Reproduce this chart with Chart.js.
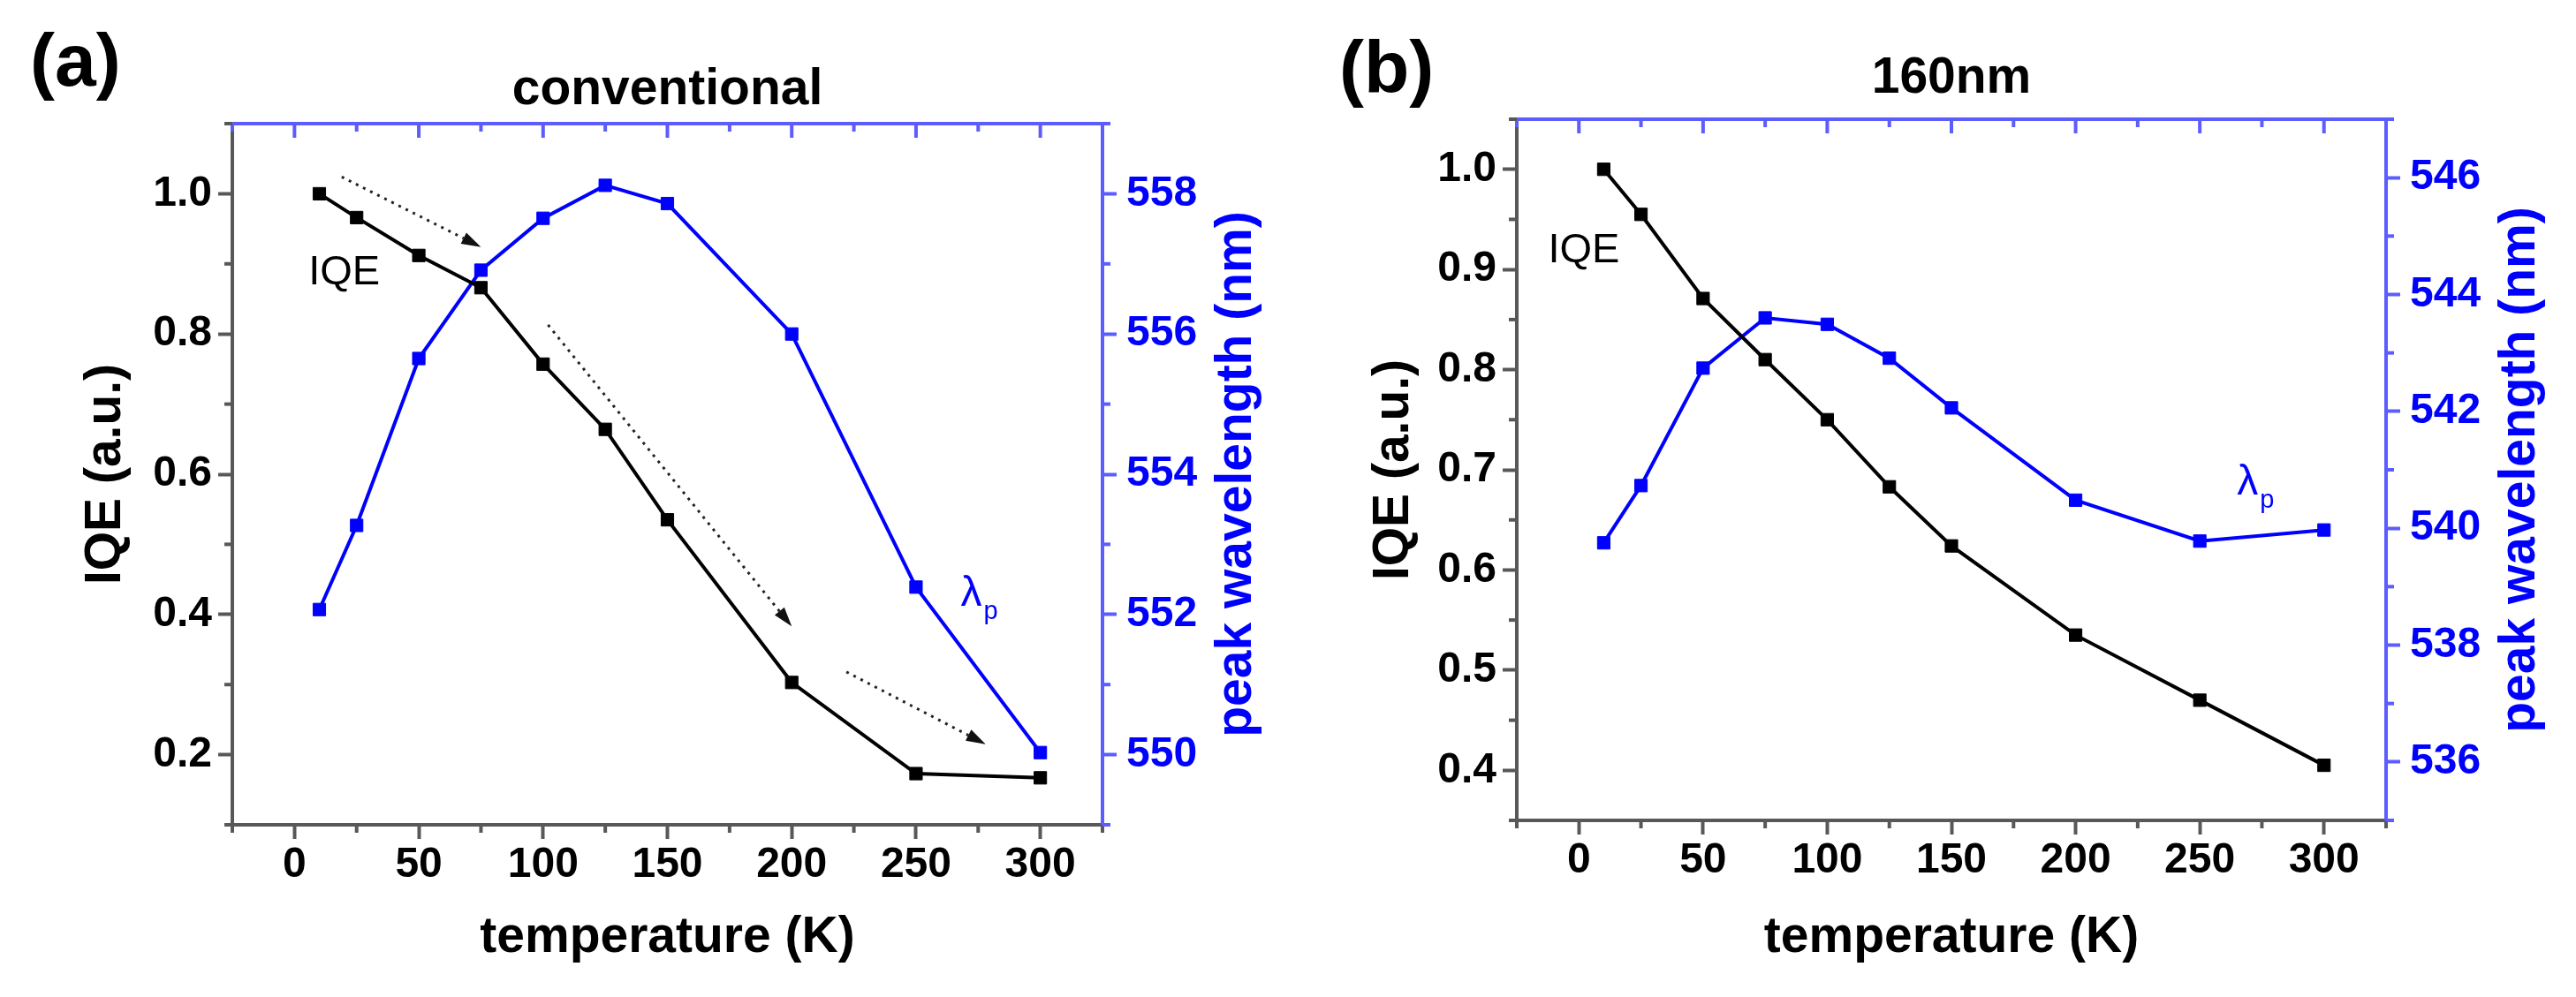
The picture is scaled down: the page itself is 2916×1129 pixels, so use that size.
<!DOCTYPE html>
<html>
<head>
<meta charset="utf-8">
<script src="https://cdn.jsdelivr.net/npm/chart.js@4.4.0/dist/chart.umd.min.js"></script>
<style>
  html, body { margin: 0; padding: 0; background: #fff; }
  #wrap { position: relative; width: 2916px; height: 1129px; }
  .panel { position: absolute; top: 0; width: 1458px; height: 1129px; }
</style>
</head>
<body>
<div id="wrap">
  <div class="panel" style="left:0"><canvas id="chartA"></canvas></div>
  <div class="panel" style="left:1458px"><canvas id="chartB"></canvas></div>
</div>
<script>
// temperatures (K) shared by both panels
const temps = [10, 25, 50, 75, 100, 125, 150, 200, 250, 300];

// (a) conventional
const iqeConv  = [1.0, 0.966, 0.912, 0.866, 0.757, 0.664, 0.535, 0.303, 0.173, 0.167];
const peakConv = [552.07, 553.27, 555.65, 556.91, 557.65, 558.12, 557.86, 556.0, 552.39, 550.03];

// (b) 160nm
const iqe160  = [1.0, 0.955, 0.871, 0.810, 0.750, 0.683, 0.624, 0.535, 0.470, 0.405];
const peak160 = [539.75, 540.73, 542.74, 543.60, 543.49, 542.91, 542.06, 540.48, 539.78, 539.97];

// tick labels
const tempTicks      = [0, 50, 100, 150, 200, 250, 300];
const tempMinor      = [-25, 25, 75, 125, 175, 225, 275, 325];
const iqeTicksConv   = [0.2, 0.4, 0.6, 0.8, 1.0];
const iqeMinorConv   = [0.1, 0.3, 0.5, 0.7, 0.9, 1.1];
const peakTicksConv  = [550, 552, 554, 556, 558];
const peakMinorConv  = [549, 551, 553, 555, 557, 559];
const iqeTicks160    = [0.4, 0.5, 0.6, 0.7, 0.8, 0.9, 1.0];
const iqeMinor160    = [0.35, 0.45, 0.55, 0.65, 0.75, 0.85, 0.95, 1.05];
const peakTicks160   = [536, 538, 540, 542, 544, 546];
const peakMinor160   = [535, 537, 539, 541, 543, 545, 547];

// dotted trend arrows in (a): [T start, IQE start, T end, IQE end]
const arrowsConv = [[19, 1.024, 75, 0.924], [102, 0.813, 200, 0.383], [222, 0.318, 278, 0.215]];

const FONT = "'Liberation Sans', Arial, sans-serif";
const GRAY = '#585858';
const AXBLUE = '#5c5cff';
const BLUE = '#0000ff';
const MAJOR = 16, MINOR = 9;
Chart.defaults.font.family = FONT;

function makeDecor(o) {
  const seg = (ctx, x1, y1, x2, y2, col) => {
    ctx.strokeStyle = col;
    ctx.beginPath(); ctx.moveTo(x1, y1); ctx.lineTo(x2, y2); ctx.stroke();
  };
  return {
    id: 'decor',
    beforeDatasetsDraw(chart) {
      const { ctx, chartArea: a } = chart;
      const { x, y, y2 } = chart.scales;
      ctx.save();
      ctx.lineWidth = 4;
      // top axis, ticks inward
      seg(ctx, a.left - 2, a.top, a.right + 2, a.top, AXBLUE);
      tempTicks.forEach(v => { const p = x.getPixelForValue(v); seg(ctx, p, a.top, p, a.top + MAJOR, AXBLUE); });
      tempMinor.forEach(v => { const p = x.getPixelForValue(v); seg(ctx, p, a.top, p, a.top + MINOR, AXBLUE); });
      // minor ticks outward
      tempMinor.forEach(v => { const p = x.getPixelForValue(v); seg(ctx, p, a.bottom, p, a.bottom + MINOR, GRAY); });
      o.minorLeft.forEach(v => { const p = y.getPixelForValue(v); seg(ctx, a.left, p, a.left - MINOR, p, GRAY); });
      o.minorRight.forEach(v => { const p = y2.getPixelForValue(v); seg(ctx, a.right, p, a.right + MINOR, p, AXBLUE); });
      ctx.restore();
    },
    afterDatasetsDraw(chart) {
      const { ctx } = chart;
      const { x, y } = chart.scales;
      ctx.save();
      (o.arrows || []).forEach(([t0, v0, t1, v1]) => {
        const x0 = x.getPixelForValue(t0), y0 = y.getPixelForValue(v0);
        const x1 = x.getPixelForValue(t1), y1 = y.getPixelForValue(v1);
        const ang = Math.atan2(y1 - y0, x1 - x0);
        const L = 22, W = 7;
        const bx = x1 - L * Math.cos(ang), by = y1 - L * Math.sin(ang);
        ctx.strokeStyle = '#222';
        ctx.lineWidth = 3;
        ctx.setLineDash([3, 6]);
        ctx.beginPath(); ctx.moveTo(x0, y0); ctx.lineTo(bx, by); ctx.stroke();
        ctx.setLineDash([]);
        ctx.fillStyle = '#111';
        ctx.beginPath();
        ctx.moveTo(x1, y1);
        ctx.lineTo(bx + W * Math.sin(ang), by - W * Math.cos(ang));
        ctx.lineTo(bx - W * Math.sin(ang), by + W * Math.cos(ang));
        ctx.closePath(); ctx.fill();
      });
      ctx.restore();
    },
    afterDraw(chart) {
      const { ctx, chartArea: a } = chart;
      const { x, y } = chart.scales;
      ctx.save();
      // panel letter
      ctx.fillStyle = '#000';
      ctx.font = `bold 84px ${FONT}`;
      ctx.textAlign = 'left'; ctx.textBaseline = 'alphabetic';
      ctx.fillText(o.letter, o.letterX, o.letterY);
      // title
      ctx.font = `bold 57px ${FONT}`;
      ctx.textAlign = 'center';
      ctx.fillText(o.title, (a.left + a.right) / 2, o.titleY);
      // right axis title, reads bottom to top
      ctx.save();
      ctx.translate(a.right + 152, (a.top + a.bottom) / 2);
      ctx.rotate(-Math.PI / 2);
      ctx.fillStyle = BLUE;
      ctx.textBaseline = 'middle';
      ctx.fillText('peak wavelength (nm)', 0, 0);
      ctx.restore();
      // IQE label
      ctx.font = `47px ${FONT}`;
      ctx.fillStyle = '#000';
      ctx.textAlign = 'center'; ctx.textBaseline = 'middle';
      ctx.fillText('IQE', x.getPixelForValue(o.iqeLabel[0]), y.getPixelForValue(o.iqeLabel[1]));
      // lambda_p label
      const lx = x.getPixelForValue(o.lamLabel[0]), ly = y.getPixelForValue(o.lamLabel[1]);
      ctx.fillStyle = BLUE;
      ctx.textAlign = 'left'; ctx.textBaseline = 'alphabetic';
      ctx.font = `48px ${FONT}`;
      ctx.fillText('λ', lx, ly);
      const w = ctx.measureText('λ').width;
      ctx.font = `29px ${FONT}`;
      ctx.fillText('p', lx + w + 2, ly + 15);
      ctx.restore();
    }
  };
}

function buildChart(id, d) {
  const tickFont = { family: FONT, size: 48, weight: 'bold' };
  const titleFont = { family: FONT, size: 57, weight: 'bold' };
  return new Chart(document.getElementById(id), {
    type: 'line',
    data: {
      datasets: [
        {
          label: 'IQE',
          data: temps.map((t, i) => ({ x: t, y: d.iqe[i] })),
          yAxisID: 'y',
          borderColor: '#000', backgroundColor: '#000',
          borderWidth: 4, pointStyle: 'rect', pointRadius: 10, pointBorderWidth: 1,
          tension: 0, clip: false
        },
        {
          label: 'λp',
          data: temps.map((t, i) => ({ x: t, y: d.peak[i] })),
          yAxisID: 'y2',
          borderColor: BLUE, backgroundColor: BLUE,
          borderWidth: 4, pointStyle: 'rect', pointRadius: 10, pointBorderWidth: 1,
          tension: 0, clip: false
        }
      ]
    },
    options: {
      responsive: true,
      maintainAspectRatio: false,
      animation: false,
      events: [],
      layout: { padding: { top: d.box.top, left: 0, right: 0, bottom: 0 } },
      plugins: { legend: { display: false }, tooltip: { enabled: false } },
      scales: {
        x: {
          type: 'linear', position: 'bottom', min: -25, max: 325,
          afterBuildTicks: s => { s.ticks = tempTicks.map(v => ({ value: v })); },
          afterFit: s => { s.height = 1129 - d.box.bottom; },
          grid: { drawOnChartArea: false, tickLength: MAJOR, tickWidth: 4, tickColor: GRAY },
          border: { display: true, color: GRAY, width: 4 },
          ticks: { color: '#000', font: tickFont, padding: 1, maxRotation: 0, autoSkip: false },
          title: { display: true, text: 'temperature (K)', color: '#000', font: titleFont, padding: { top: 0, bottom: 33 } }
        },
        y: {
          type: 'linear', position: 'left', min: d.iqeRange[0], max: d.iqeRange[1],
          afterBuildTicks: s => { s.ticks = d.iqeTicks.map(v => ({ value: v })); },
          afterFit: s => { s.width = d.box.left; },
          grid: { drawOnChartArea: false, tickLength: MAJOR, tickWidth: 4, tickColor: GRAY },
          border: { display: true, color: GRAY, width: 4 },
          ticks: { color: '#000', font: tickFont, padding: 7, autoSkip: false, callback: v => Number(v).toFixed(1) },
          title: { display: true, text: 'IQE (a.u.)', color: '#000', font: titleFont, padding: { top: 86, bottom: 0 } }
        },
        y2: {
          type: 'linear', position: 'right', min: d.peakRange[0], max: d.peakRange[1],
          afterBuildTicks: s => { s.ticks = d.peakTicks.map(v => ({ value: v })); },
          afterFit: s => { s.width = 1458 - d.box.right; },
          grid: { drawOnChartArea: false, tickLength: MAJOR, tickWidth: 4, tickColor: AXBLUE },
          border: { display: true, color: AXBLUE, width: 4 },
          ticks: { color: BLUE, font: tickFont, padding: 11, autoSkip: false, callback: v => String(Math.round(v)) }
        }
      }
    },
    plugins: [makeDecor(d.decor)]
  });
}

buildChart('chartA', {
  iqe: iqeConv, peak: peakConv,
  iqeRange: [0.1, 1.1], peakRange: [549, 559],
  iqeTicks: iqeTicksConv, peakTicks: peakTicksConv,
  box: { left: 263, right: 1248, top: 140, bottom: 934 },
  decor: {
    letter: '(a)', letterX: 34, letterY: 97, title: 'conventional', titleY: 118,
    minorLeft: iqeMinorConv, minorRight: peakMinorConv,
    iqeLabel: [20, 0.887], lamLabel: [268, 0.412], arrows: arrowsConv
  }
});

buildChart('chartB', {
  iqe: iqe160, peak: peak160,
  iqeRange: [0.35, 1.05], peakRange: [535, 547],
  iqeTicks: iqeTicks160, peakTicks: peakTicks160,
  box: { left: 259, right: 1243, top: 135, bottom: 929 },
  decor: {
    letter: '(b)', letterX: 58, letterY: 105, title: '160nm', titleY: 105,
    minorLeft: iqeMinor160, minorRight: peakMinor160,
    iqeLabel: [2, 0.919], lamLabel: [265, 0.675], arrows: []
  }
});
</script>
</body>
</html>
